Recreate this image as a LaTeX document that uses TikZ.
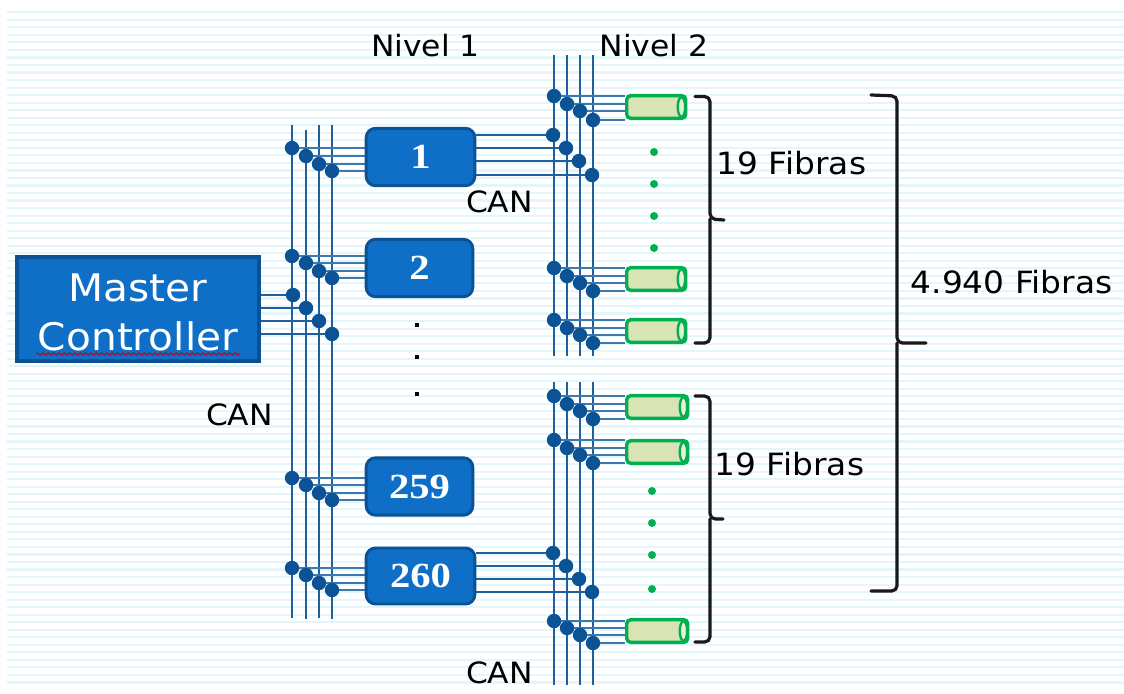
\documentclass[tikz,border=0pt]{standalone}
\usepackage{fontspec}
\setmainfont[FakeStretch=1.07]{DejaVu Sans}
\newfontfamily\numfont[FakeStretch=1.15]{Liberation Serif}
\usetikzlibrary{backgrounds,decorations.pathmorphing}
\definecolor{stripe}{HTML}{E3F6FB}
\definecolor{boxblue}{HTML}{0F6FC6}
\definecolor{boxedge}{HTML}{0B5294}
\definecolor{busblue}{HTML}{1F5F9E}
\definecolor{tapblue}{HTML}{3F78AD}
\definecolor{dotblue}{HTML}{0B5394}
\definecolor{fibergreen}{HTML}{00B050}
\definecolor{fiberfill}{HTML}{D8E4B4}
\tikzset{
  stripeline/.style={stripe,line width=1.6pt},
  busline/.style={busblue,line width=1.9pt},
  tapline/.style={tapblue,line width=2pt},
  darktap/.style={busblue,line width=1.8pt},
  dotnode/.style={circle,fill=dotblue,inner sep=0pt,minimum size=10.8pt},
  ctrlbox/.style={draw=boxedge,fill=boxblue,line width=2.2pt,rounded corners=7pt,inner sep=0pt,
    text=white,font=\numfont\bfseries\fontsize{26.5}{30}\selectfont},
  masterbox/.style={draw=boxedge,fill=boxblue,line width=2.4pt,inner sep=0pt},
  mastertext/.style={inner sep=0pt,text=white,font=\fontsize{28.5}{36}\selectfont},
  fiberbody/.style={draw=fibergreen,fill=fiberfill,line width=2.6pt,rounded corners=3pt,inner sep=0pt},
  fiberend/.style={draw=fibergreen,fill=fiberfill!60!white,line width=1.8pt},
  greendot/.style={circle,fill=fibergreen,inner sep=0pt,minimum size=6pt},
  blackdot/.style={rectangle,fill=black,inner sep=0pt,minimum size=3.6pt},
  bracket/.style={draw=black!90,line width=2.4pt,line cap=round,rounded corners=4pt},
  lbl/.style={inner sep=0pt,text=black,font=\fontsize{23}{27}\selectfont},
  lblsmall/.style={inner sep=0pt,text=black,font=\fontsize{22}{27}\selectfont}
}
\newcommand{\fibernode}[4]{% name, x left, y centre, width
  \node[fiberbody,anchor=west,minimum width=#4*0.75pt,minimum height=17pt] (#1) at (#2,#3) {};
  \draw[fiberend] ([xshift=-4.5pt]#1.east) ellipse [x radius=2.8pt,y radius=7.4pt];
}
\newcommand{\tapgroup}[5][tapline]{% line style, name, x-offset, x/y list, target anchor
  \foreach \i/\xx/\yy in {#4}{
    \node[dotnode] (#2\i) at (\xx+#3,\yy) {};
    \begin{pgfonlayer}{background}
      \draw[#1] (#2\i.center) -- (#5 |- #2\i.center);
    \end{pgfonlayer}
  }
}
\begin{document}
\begin{tikzpicture}[x=0.75pt,y=-0.75pt]
\useasboundingbox (0,0) rectangle (1124,693);
% background stripes first
\begin{pgfonlayer}{background}
  \fill[white] (0,0) rectangle (1124,693);
  \foreach \i in {0,...,89}{
    \draw[stripeline] (7,12.3+7.53*\i) -- (1124,12.3+7.53*\i);
  }
\end{pgfonlayer}
% boxes
\node[masterbox,minimum width=181.5pt,minimum height=78pt] (mc) at (138,309) {};
\draw[red!75!black,line width=0.7pt,decorate,decoration={snake,segment length=4pt,amplitude=0.9pt}] (36,354) -- (240,354);
\node[mastertext] (mct1) at (138,288) {Master};
\node[mastertext] (mct2) at (138,336) {Controller};
\node[ctrlbox,minimum width=81.5pt,minimum height=43pt] (b1) at (420.5,157) {1};
\node[ctrlbox,minimum width=80pt,minimum height=43pt] (b2) at (419.5,268) {2};
\node[ctrlbox,minimum width=80pt,minimum height=43pt] (b259) at (419.5,486.5) {259};
\node[ctrlbox,minimum width=81.5pt,minimum height=42pt] (b260) at (420.5,576) {260};
% fibres
\fibernode{f1}{625}{107}{59}
\fibernode{f2}{625}{279}{59}
\fibernode{f3}{625}{331}{59}
\fibernode{f4}{625}{407}{61}
\fibernode{f5}{625}{452}{61}
\fibernode{f6}{625}{631}{61}
% bus lines
\begin{pgfonlayer}{background}
\foreach \n/\x/\ya/\yb in {
  A/292/125/618,B/306/130/619,C/319/125/618,D/332/125/619,
  E/554/55/356,F/567/55/356,G/580/55/356,H/593/55/356,
  I/554/382/685,J/567/382/685,K/580/382/685,L/593/382/685}{
  \coordinate (\n t) at (\x,\ya);
  \coordinate (\n b) at (\x,\yb);
  \draw[busline] (\n t) -- (\n b);
}
\end{pgfonlayer}
% level 1 taps
\tapgroup{a}{0}{1/292/148,2/306/156,3/319/164,4/332/171}{b1.west}
\tapgroup{c}{0}{1/292/256,2/306/263,3/319/271,4/332/278}{b2.west}
\tapgroup[darktap]{m}{0}{1/293/295,2/306/308,3/319/321,4/332/334}{mc.east}
\tapgroup{d}{0}{1/292/478,2/306/485,3/319/493,4/332/500}{b259.west}
\tapgroup{e}{0}{1/292/568,2/306/575,3/319/583,4/332/590}{b260.west}
% level 2 taps
\tapgroup{p}{0}{1/554/96,2/567/104,3/580/111,4/593/120}{f1.west}
\tapgroup[darktap]{q}{0}{1/553/135,2/566/148,3/579/161,4/592/175}{b1.east}
\tapgroup{r}{0}{1/554/268,2/567/276,3/580/283,4/593/291}{f2.west}
\tapgroup{s}{0}{1/554/320,2/567/328,3/580/335,4/593/343}{f3.west}
\tapgroup{t}{0}{1/554/396,2/567/404,3/580/411,4/593/419}{f4.west}
\tapgroup{u}{0}{1/554/440,2/567/448,3/580/455,4/593/463}{f5.west}
\tapgroup[darktap]{v}{0}{1/553/553,2/566/566,3/579/579,4/592/592}{b260.east}
\tapgroup{w}{0}{1/554/621,2/567/628,3/580/635,4/593/643}{f6.west}
% green dots
\foreach \n/\x/\y in {g1/654/152,g2/654/184,g3/654/216,g4/654/248,g5/652/491,g6/652/523,g7/652/555,g8/652/589}{
  \node[greendot] (\n) at (\x,\y) {};
}
\foreach \n/\y in {k1/325,k2/357,k3/394}{
  \node[blackdot] (\n) at (417,\y) {};
}
% brackets
\draw[bracket] (695,96.5) -- (710,96.5) -- (710,219) -- (724,220);
\draw[bracket] (710,219) -- (710,343) -- (695,343);
\draw[bracket] (695,396) -- (710,396) -- (710,519) -- (723,519);
\draw[bracket] (710,519) -- (710,642) -- (695,642);
\draw[bracket] (871,95) -- (897,96) -- (897,343) -- (926,343);
\draw[bracket] (897,343) -- (897,591) -- (871,591);
% labels
\node[lblsmall] (n1) at (425.5,46) {Nivel 1};
\node[lblsmall] (n2) at (654,46) {Nivel 2};
\node[lbl] (l1) at (791.5,163) {19 Fibras};
\node[lbl] (l2) at (789.5,464) {19 Fibras};
\node[lbl] (l3) at (1011.5,282) {4.940 Fibras};
\node[lblsmall] (c1) at (499.5,202) {CAN};
\node[lblsmall] (c2) at (239.5,415) {CAN};
\node[lblsmall] (c3) at (499.5,673) {CAN};
\end{tikzpicture}
\end{document}
